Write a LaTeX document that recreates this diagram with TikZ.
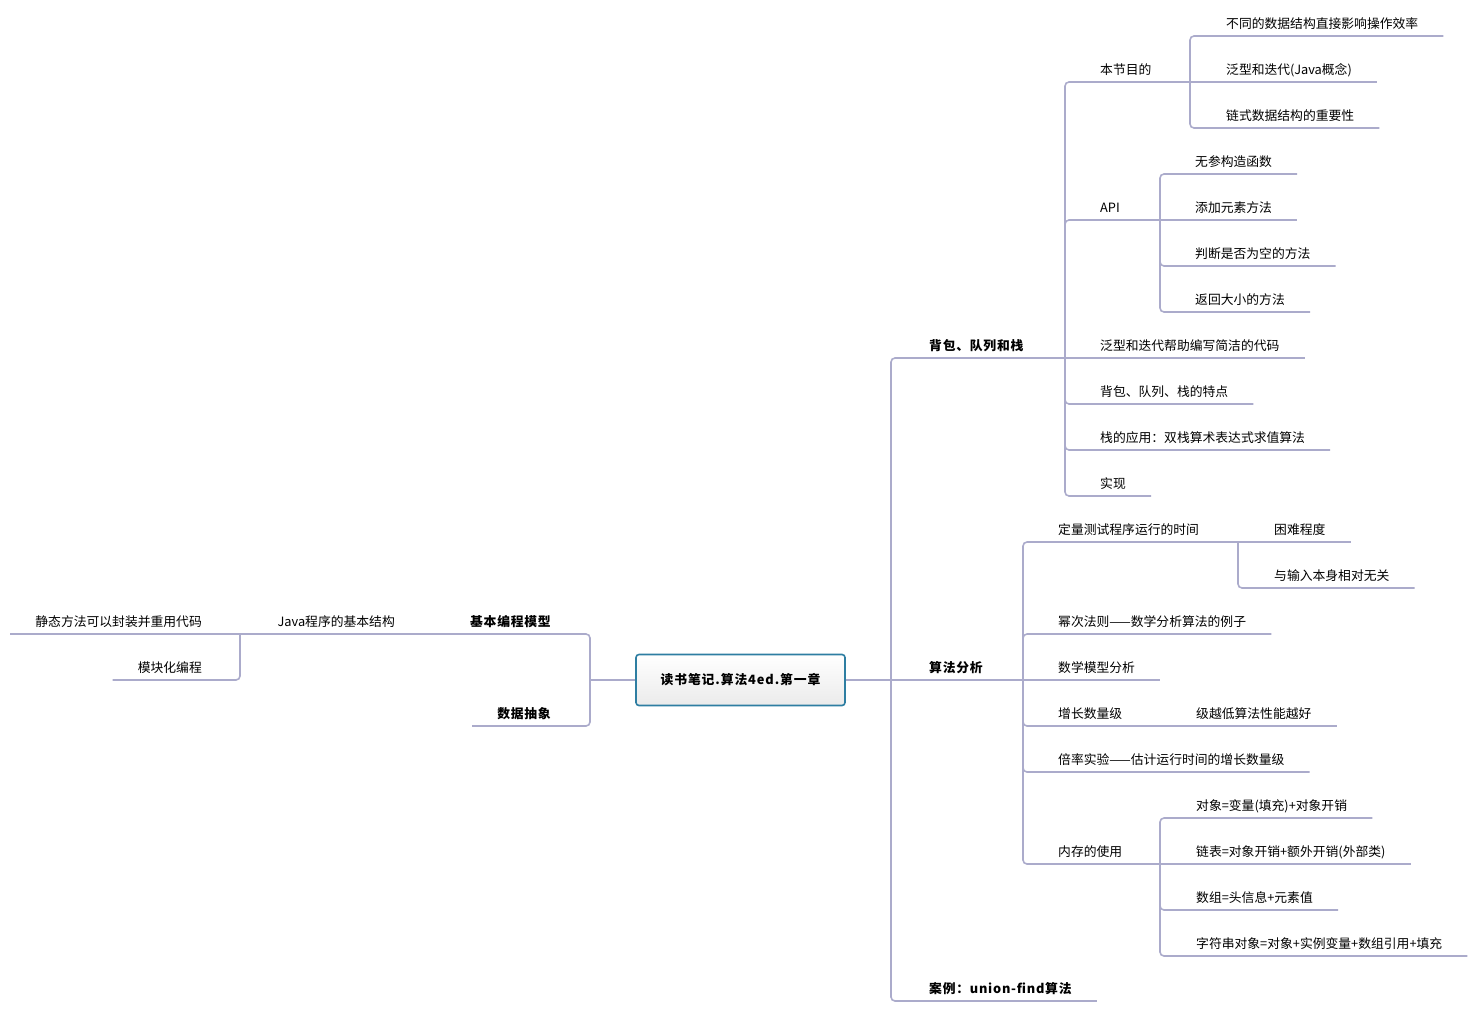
\documentclass[tikz,border=0pt]{standalone}
\usepackage{fontspec}
\setmainfont{Noto Sans CJK SC}
\usepackage{tikz}

\definecolor{linegray}{HTML}{ABABCB}
\definecolor{rootblue}{HTML}{2E7EA2}

\begin{document}
\begin{tikzpicture}[x=1pt,y=-1pt,
  font=\fontsize{12.8}{15}\selectfont,
  branch/.style={draw=linegray,line width=1.6pt,rounded corners=4pt},
  rleaf/.style={anchor=south west,inner xsep=25pt,inner ysep=0pt,text height=10pt,text depth=7pt},
  lleaf/.style={rleaf,anchor=south east},
  topic/.style={font=\fontsize{12.8}{15}\selectfont\bfseries\addfontfeatures{LetterSpace=6}},
  rootbox/.style={draw=rootblue,line width=1.6pt,rounded corners=3pt,minimum width=209pt,
    minimum height=51pt,top color=white,bottom color=black!8,
    font=\fontsize{12.8}{15}\selectfont\bfseries\addfontfeatures{LetterSpace=7}}]
\useasboundingbox (0,0) rectangle (1482,1012);

\node[rootbox] (root) at (740.5,680) {读书笔记.算法4ed.第一章};

\coordinate (rt) at (891,680);
\coordinate (lt) at (590,680);
\draw[branch] (root.east) -- (rt);
\draw[branch] (root.west) -- (lt);

\node[rleaf,topic] (bbdl) at (904,358) {背包、队列和栈};
\node[rleaf,topic] (sffx) at (904,680) {算法分析};
\node[rleaf,topic] (al) at (904,1001) {案例：union-find算法};
\coordinate (bbdl-t) at (1065,358);
\coordinate (sffx-t) at (1023,680);
\draw[branch] (rt) |- (bbdl-t);
\draw[branch] (rt) -- (sffx-t);
\draw[branch] (rt) |- (al.south east);

\node[rleaf] (bjmd) at (1075,82) {本节目的};
\node[rleaf] (api) at (1075,220) {API};
\node[rleaf] (fxdd) at (1075,358) {泛型和迭代帮助编写简洁的代码};
\node[rleaf] (tedian) at (1075,404) {背包、队列、栈的特点};
\node[rleaf] (yingyong) at (1075,450) {栈的应用：双栈算术表达式求值算法};
\node[rleaf] (shixian) at (1075,496) {实现};
\coordinate (bjmd-t) at (1190,82);
\coordinate (api-t) at (1160,220);
\draw[branch] (bbdl-t) |- (bjmd-t);
\draw[branch] (bbdl-t) |- (api-t);
\draw[branch] (bbdl-t) -- (fxdd.south east);
\draw[branch] (bbdl-t) |- (tedian.south east);
\draw[branch] (bbdl-t) |- (yingyong.south east);
\draw[branch] (bbdl-t) |- (shixian.south east);

\node[rleaf] (bj1) at (1201,36) {不同的数据结构直接影响操作效率};
\node[rleaf] (bj2) at (1201,82) {泛型和迭代(Java概念)};
\node[rleaf] (bj3) at (1201,128) {链式数据结构的重要性};
\draw[branch] (bjmd-t) |- (bj1.south east);
\draw[branch] (bjmd-t) -- (bj2.south east);
\draw[branch] (bjmd-t) |- (bj3.south east);

\node[rleaf] (api1) at (1170,174) {无参构造函数};
\node[rleaf] (api2) at (1170,220) {添加元素方法};
\node[rleaf] (api3) at (1170,266) {判断是否为空的方法};
\node[rleaf] (api4) at (1170,312) {返回大小的方法};
\draw[branch] (api-t) |- (api1.south east);
\draw[branch] (api-t) -- (api2.south east);
\draw[branch] (api-t) |- (api3.south east);
\draw[branch] (api-t) |- (api4.south east);

\node[rleaf] (dlcs) at (1033,542) {定量测试程序运行的时间};
\node[rleaf] (mcfz) at (1033,634) {幂次法则——数学分析算法的例子};
\node[rleaf] (sxmx) at (1033,680) {数学模型分析};
\node[rleaf] (zzsl) at (1033,726) {增长数量级};
\node[rleaf] (blsy) at (1033,772) {倍率实验——估计运行时间的增长数量级};
\node[rleaf] (ncsy) at (1033,864) {内存的使用};
\coordinate (dlcs-t) at (1238,542);
\coordinate (zzsl-t) at (1160,726);
\coordinate (ncsy-t) at (1160,864);
\draw[branch] (sffx-t) |- (dlcs-t);
\draw[branch] (sffx-t) |- (mcfz.south east);
\draw[branch] (sffx-t) -- (sxmx.south east);
\draw[branch] (sffx-t) |- (zzsl-t);
\draw[branch] (sffx-t) |- (blsy.south east);
\draw[branch] (sffx-t) |- (ncsy-t);

\node[rleaf] (kncd) at (1249,542) {困难程度};
\node[rleaf] (wgxg) at (1249,588) {与输入本身相对无关};
\draw[branch] (dlcs-t) -- (kncd.south east);
\draw[branch] (dlcs-t) |- (wgxg.south east);

\node[rleaf] (jydy) at (1171,726) {级越低算法性能越好};
\draw[branch] (zzsl-t) -- (jydy.south east);

\node[rleaf] (nc1) at (1171,818) {对象=变量(填充)+对象开销};
\node[rleaf] (nc2) at (1171,864) {链表=对象开销+额外开销(外部类)};
\node[rleaf] (nc3) at (1171,910) {数组=头信息+元素值};
\node[rleaf] (nc4) at (1171,956) {字符串对象=对象+实例变量+数组引用+填充};
\draw[branch] (ncsy-t) |- (nc1.south east);
\draw[branch] (ncsy-t) -- (nc2.south east);
\draw[branch] (ncsy-t) |- (nc3.south east);
\draw[branch] (ncsy-t) |- (nc4.south east);

\node[lleaf,topic] (jbbc) at (576,634) {基本编程模型};
\node[lleaf,topic] (sjcx) at (576,726) {数据抽象};
\draw[branch] (lt) |- (jbbc.south west);
\draw[branch] (lt) |- (sjcx.south west);

\node[lleaf] (jgj) at (420,634) {Java程序的基本结构};
\coordinate (jgj-t) at (240,634);
\draw[branch] (jbbc.south west) -- (jgj-t);

\node[lleaf] (jt1) at (227,634) {静态方法可以封装并重用代码};
\node[lleaf] (jt2) at (227,680) {模块化编程};
\draw[branch] (jgj-t) -- (jt1.south west);
\draw[branch] (jgj-t) |- (jt2.south west);
\end{tikzpicture}
\end{document}
